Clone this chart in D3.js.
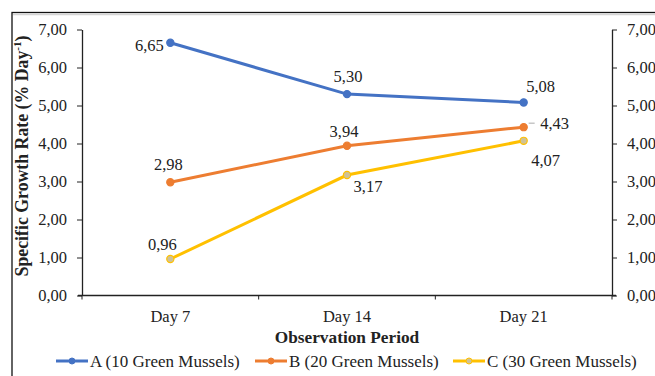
<!DOCTYPE html>
<html>
<head>
<meta charset="utf-8">
<script src="https://cdn.jsdelivr.net/npm/d3@7"></script>
<style>
  body { margin: 0; background: #fff; }
  svg { display: block; }
  svg text { font-family: 'Liberation Serif', 'Times New Roman', serif; fill: #222; }
  .axis path, .axis line { stroke: #222; }
</style>
</head>
<body>
<svg id="chart" width="655" height="376"></svg>
<script>
// chart data
const days = ['Day 7', 'Day 14', 'Day 21']
const seriesNames = ['A (10 Green Mussels)', 'B (20 Green Mussels)', 'C (30 Green Mussels)']
const valuesA = [6.65, 5.30, 5.08]
const valuesB = [2.98, 3.94, 4.43]
const valuesC = [0.96, 3.17, 4.07]
const yTicks = [0, 1, 2, 3, 4, 5, 6, 7]

const colors = ['#4472C4', '#ED7D31', '#FFC000']
const markerFill = ['#4472C4', '#ED7D31', '#CFC296']

// label offsets relative to the point, per series / per day
const labelOffsets = [
  [[-21, 8], [1, -12], [17, -10]],
  [[-2, -12], [-3, -9], [31, 2]],
  [[-8, -9], [21, 17], [22, 25]]
]

const svg = d3.select('#chart')
const width = 655
const height = 376

const comma = d3.formatLocale({ decimal: ',', thousands: '.', grouping: [3], currency: ['', ''] })
const fmt = comma.format('.2f')

// outer frame
svg.append('rect')
  .attr('x', 12).attr('y', 12.5)
  .attr('width', width).attr('height', height)
  .attr('fill', 'none')
  .attr('stroke', '#111')
  .attr('stroke-width', 1.3)
svg.append('line')
  .attr('x1', 13).attr('x2', width)
  .attr('y1', 14.5).attr('y2', 14.5)
  .attr('stroke', '#d4d4d4').attr('stroke-width', 1.5)

const x = d3.scaleBand().domain(days).range([82, 612]).padding(0)
const y = d3.scaleLinear().domain([0, 7]).range([295.5, 29.5])
const cx = d => x(d) + x.bandwidth() / 2

function styleAxis (g) {
  g.attr('font-family', null).attr('font-size', null)
  g.select('.domain').attr('stroke-width', 1.3)
  g.selectAll('text').style('font-size', '16.5px')
}

// left axis
svg.append('g')
  .attr('class', 'axis axis-y')
  .attr('transform', 'translate(82,0)')
  .call(d3.axisLeft(y).tickValues(yTicks).tickFormat(fmt).tickSize(5).tickSizeOuter(0).tickPadding(10))
  .call(styleAxis)

// right axis
svg.append('g')
  .attr('class', 'axis axis-y2')
  .attr('transform', 'translate(612,0)')
  .call(d3.axisRight(y).tickValues(yTicks).tickFormat(fmt).tickSize(5).tickSizeOuter(0).tickPadding(10))
  .call(styleAxis)

// bottom axis: ticks at band boundaries, labels at centers
const xAxis = svg.append('g')
  .attr('class', 'axis axis-x')
  .attr('transform', 'translate(0,295.5)')
xAxis.append('line')
  .attr('x1', 78).attr('x2', 616)
  .attr('stroke', '#222').attr('stroke-width', 1.3)
const bounds = days.map(d => x(d)).concat([x(days[days.length - 1]) + x.bandwidth()])
xAxis.selectAll('.tick-b')
  .data(bounds)
  .join('line')
  .attr('class', 'tick-b')
  .attr('x1', d => d).attr('x2', d => d)
  .attr('y1', 0).attr('y2', 4)
  .attr('stroke', '#222')
xAxis.selectAll('.lbl')
  .data(days)
  .join('text')
  .attr('class', 'lbl')
  .attr('x', d => cx(d))
  .attr('y', 26.5)
  .attr('text-anchor', 'middle')
  .style('font-size', '16.5px')
  .text(d => d)

// axis titles
const yTitle = svg.append('text')
  .attr('transform', 'translate(28,156) rotate(-90)')
  .attr('text-anchor', 'middle')
  .style('font-size', '17.8px')
  .style('font-weight', 'bold')
yTitle.append('tspan').text('Specific Growth Rate (% Day')
yTitle.append('tspan').text('-1').attr('dy', -7).style('font-size', '11px')
yTitle.append('tspan').text(')').attr('dy', 7)

svg.append('text')
  .attr('x', 347).attr('y', 343)
  .attr('text-anchor', 'middle')
  .style('font-size', '17.3px')
  .style('font-weight', 'bold')
  .text('Observation Period')

// series
const series = [valuesA, valuesB, valuesC].map((vals, i) => ({
  name: seriesNames[i],
  points: days.map((d, j) => ({ day: d, value: vals[j] })),
  idx: i
}))

const line = d3.line().x(p => cx(p.day)).y(p => y(p.value))

const sg = svg.selectAll('.series')
  .data(series)
  .join('g')
  .attr('class', 'series')

sg.append('path')
  .attr('d', s => line(s.points))
  .attr('fill', 'none')
  .attr('stroke', s => colors[s.idx])
  .attr('stroke-width', 3)

sg.selectAll('circle')
  .data(s => s.points.map(p => ({ ...p, idx: s.idx })))
  .join('circle')
  .attr('cx', p => cx(p.day))
  .attr('cy', p => y(p.value))
  .attr('r', 3.6)
  .attr('fill', p => markerFill[p.idx])
  .attr('stroke', p => colors[p.idx])
  .attr('stroke-width', 1.2)

sg.selectAll('.val')
  .data(s => s.points.map((p, j) => ({ ...p, idx: s.idx, j })))
  .join('text')
  .attr('class', 'val')
  .attr('x', p => cx(p.day) + labelOffsets[p.idx][p.j][0])
  .attr('y', p => y(p.value) + labelOffsets[p.idx][p.j][1])
  .attr('text-anchor', 'middle')
  .style('font-size', '16.5px')
  .text(p => fmt(p.value))

// leader line for B at Day 21
svg.append('line')
  .attr('x1', cx(days[2]) + 5).attr('x2', cx(days[2]) + 11)
  .attr('y1', y(valuesB[2]) - 4).attr('y2', y(valuesB[2]) - 4)
  .attr('stroke', '#aaa').attr('stroke-width', 1)

// legend
const legendX = [56, 255, 453]
const lg = svg.selectAll('.legend')
  .data(series)
  .join('g')
  .attr('class', 'legend')
  .attr('transform', (s, i) => `translate(${legendX[i]},361)`)
lg.append('line')
  .attr('x1', 0).attr('x2', 32)
  .attr('stroke', s => colors[s.idx])
  .attr('stroke-width', 3)
lg.append('circle')
  .attr('cx', 16).attr('r', 3)
  .attr('fill', s => markerFill[s.idx])
  .attr('stroke', s => colors[s.idx])
lg.append('text')
  .attr('x', 34).attr('y', 6)
  .style('font-size', '17px')
  .text(s => s.name)
</script>
</body>
</html>
